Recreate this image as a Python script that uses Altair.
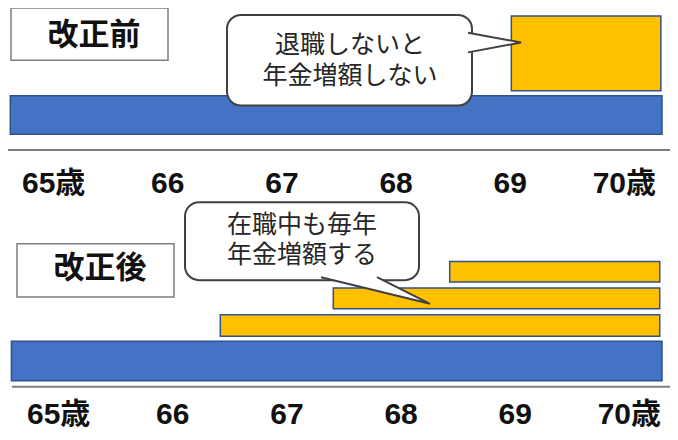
import altair as alt
import pandas as pd

# ---- data ----
ages = [65, 66, 67, 68, 69, 70]
age_labels = ["65歳", "66", "67", "68", "69", "70歳"]

bar_panel = ["改正前", "改正前", "改正後", "改正後", "改正後", "改正後"]
bar_kind = ["基本", "増額", "基本", "増額", "増額", "増額"]
bar_start = [64.62, 69.01, 64.63, 66.46, 67.45, 68.47]
bar_end = [70.33, 70.32, 70.33, 70.31, 70.31, 70.31]

panel_titles = ["改正前", "改正後"]
callout_lines = [["退職しないと", "年金増額しない"], ["在職中も毎年", "年金増額する"]]

# ---- layout (reference page pixels) ----
bar_rows = [(97, 136), (16, 92), (346, 386), (319, 341), (292, 313), (265, 286)]
axis_rows = [186, 421]
axis_dx = [0, 5]
dividers = [(0, 678, 152), (12, 678, 392)]
title_boxes = [(11, 168, 8, 61), (17, 174, 247, 301)]
title_pos = [(94, 36), (100, 273)]
callout_boxes = [(227, 472, 15, 107), (185, 419, 205, 284)]
callout_text_pos = [(350, 46, 31), (302, 228, 31)]
pointers = [[(468, 33), (521, 43), (468, 53)], [(321, 281), (430, 308), (377, 281)]]

YS = alt.Scale(domain=[8, 438], reverse=True)
XA = alt.Scale(domain=[64.6, 70.4])
XP = alt.Scale(domain=[8, 670])

bars = pd.DataFrame({
    "panel": bar_panel, "kind": bar_kind, "start": bar_start, "end": bar_end,
    "y0": [r[0] for r in bar_rows], "y1": [r[1] for r in bar_rows],
})
div_df = pd.DataFrame({"x0": [d[0] for d in dividers], "x1": [d[1] for d in dividers],
                       "y": [d[2] for d in dividers]})
tbox_df = pd.DataFrame({"x0": [b[0] for b in title_boxes], "x1": [b[1] for b in title_boxes],
                        "y0": [b[2] for b in title_boxes], "y1": [b[3] for b in title_boxes]})
ttext_df = pd.DataFrame({"t": panel_titles, "x": [p[0] for p in title_pos], "y": [p[1] for p in title_pos]})
cbox_df = pd.DataFrame({"x0": [b[0] for b in callout_boxes], "x1": [b[1] for b in callout_boxes],
                        "y0": [b[2] for b in callout_boxes], "y1": [b[3] for b in callout_boxes]})
ct_rows = []
for lines, (cx, cy, lh) in zip(callout_lines, callout_text_pos):
    for k, line in enumerate(lines):
        ct_rows.append({"t": line, "x": cx, "y": cy + k * lh})
ctext_df = pd.DataFrame(ct_rows)
ptr_rows = []
for cid, pts in enumerate(pointers):
    for i, (px, py) in enumerate(pts):
        ptr_rows.append({"id": cid, "i": i, "x": px, "y": py})
ptr_df = pd.DataFrame(ptr_rows)

layers = []

layers.append(alt.Chart(div_df).mark_rule(color="#7F7F7F", strokeWidth=2).encode(
    x=alt.X("x0:Q", scale=XP, axis=None), x2="x1:Q",
    y=alt.Y("y:Q", scale=YS, axis=None)))

layers.append(alt.Chart(bars).mark_rect(stroke="#2F528F", strokeWidth=1.5).encode(
    x=alt.X("start:Q", scale=XA, axis=None), x2="end:Q",
    y=alt.Y("y0:Q", scale=YS, axis=None), y2="y1:Q",
    color=alt.Color("kind:N", scale=alt.Scale(domain=["基本", "増額"], range=["#4472C4", "#FFC000"]),
                    legend=None)))

layers.append(alt.Chart(tbox_df).mark_rect(fill="white", stroke="#7F7F7F", strokeWidth=1.5).encode(
    x=alt.X("x0:Q", scale=XP, axis=None), x2="x1:Q",
    y=alt.Y("y0:Q", scale=YS, axis=None), y2="y1:Q"))

layers.append(alt.Chart(ttext_df).mark_text(font="Noto Sans CJK JP", fontSize=31, fontWeight="bold",
                                            color="#111111", baseline="middle", align="center").encode(
    x=alt.X("x:Q", scale=XP, axis=None), y=alt.Y("y:Q", scale=YS, axis=None), text="t:N"))

layers.append(alt.Chart(cbox_df).mark_rect(fill="white", stroke="#404040", strokeWidth=2,
                                           cornerRadius=14).encode(
    x=alt.X("x0:Q", scale=XP, axis=None), x2="x1:Q",
    y=alt.Y("y0:Q", scale=YS, axis=None), y2="y1:Q"))

layers.append(alt.Chart(ptr_df).mark_line(fill="white", stroke="#404040", strokeWidth=2,
                                          strokeJoin="miter").encode(
    x=alt.X("x:Q", scale=XP, axis=None), y=alt.Y("y:Q", scale=YS, axis=None),
    order="i:O", detail="id:N"))

layers.append(alt.Chart(ctext_df).mark_text(font="Liberation Sans, Noto Sans CJK JP", fontSize=25,
                                            color="#262626", baseline="middle", align="center").encode(
    x=alt.X("x:Q", scale=XP, axis=None), y=alt.Y("y:Q", scale=YS, axis=None), text="t:N"))

for yrow, dx in zip(axis_rows, axis_dx):
    lab_df = pd.DataFrame({"age": ages, "label": age_labels, "y": [yrow] * len(ages)})
    layers.append(alt.Chart(lab_df).mark_text(font="Liberation Sans, Noto Sans CJK JP", fontSize=30,
                                              fontWeight="bold", color="#111111", baseline="middle",
                                              align="center", dx=dx).encode(
        x=alt.X("age:Q", scale=XA, axis=None), y=alt.Y("y:Q", scale=YS, axis=None), text="label:N"))

chart = alt.layer(*layers).resolve_scale(x="independent").properties(
    width=662, height=424, padding=0, background="white",
    autosize=alt.AutoSizeParams(type="none")
).configure_view(stroke=None)

chart.save("out.html", embed_options={"renderer": "svg", "actions": False})
